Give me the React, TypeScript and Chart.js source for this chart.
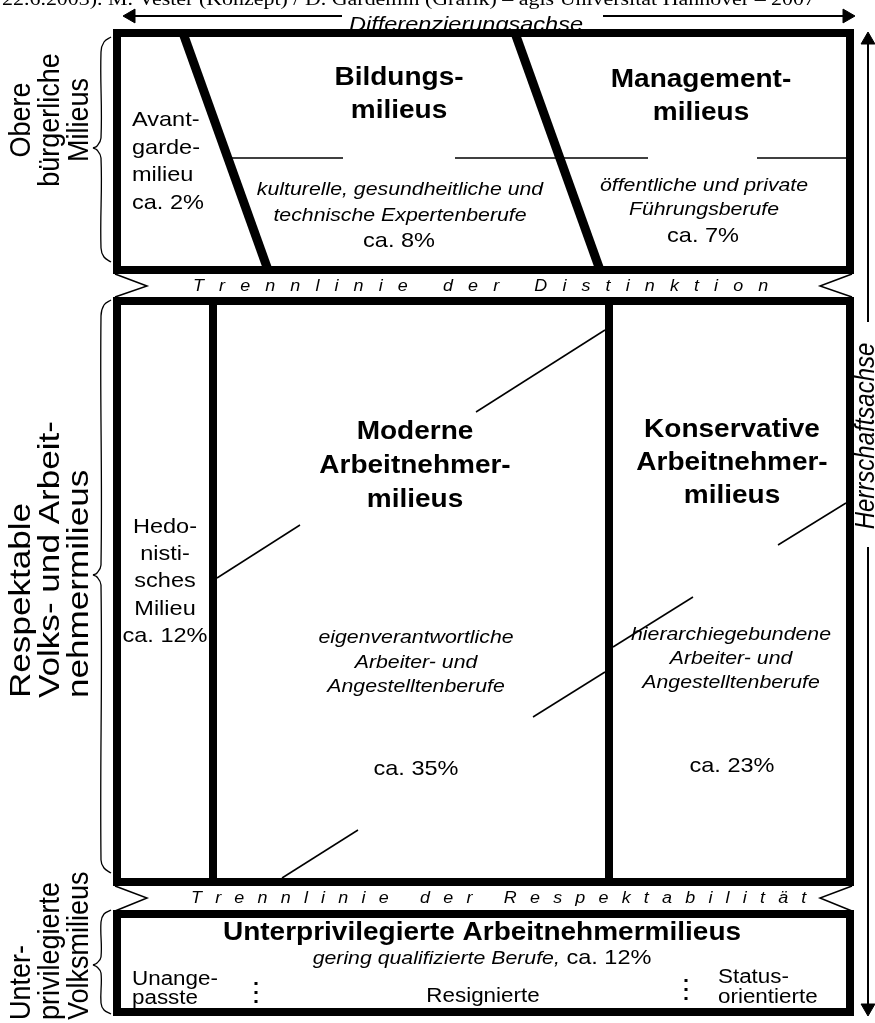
import React, { useEffect, useRef } from "react";
import { Chart, registerables } from "chart.js";

Chart.register(...registerables);

const W = 875;
const H = 1023;
const SX = 1.12;
const SANS = "'Liberation Sans', Arial, Helvetica, sans-serif";
const SERIF = "'Liberation Serif', 'Times New Roman', serif";

// ---------- texts ----------
const headerText = "22.6.2003). M. Vester (Konzept) / D. Gardemin (Grafik) – agis Universität Hannover – 2007";
const axisXLabel = "Differenzierungsachse";
const axisYLabel = "Herrschaftsachse";
const upperGroup = ["Obere", "bürgerliche", "Milieus"];
const middleGroup = ["Respektable", "Volks- und Arbeit-", "nehmermilieus"];
const lowerGroup = ["Unter-", "privilegierte", "Volksmilieus"];
const avantgarde = ["Avant-", "garde-", "milieu", "ca. 2%"];
const bildungTitle = ["Bildungs-", "milieus"];
const bildungJobs = ["kulturelle, gesundheitliche und", "technische Expertenberufe"];
const bildungShare = "ca. 8%";
const managementTitle = ["Management-", "milieus"];
const managementJobs = ["öffentliche und private", "Führungsberufe"];
const managementShare = "ca. 7%";
const distinctionLine = "Trennlinie der Distinktion";
const hedonistic = ["Hedo-", "nisti-", "sches", "Milieu", "ca. 12%"];
const modernTitle = ["Moderne", "Arbeitnehmer-", "milieus"];
const modernJobs = ["eigenverantwortliche", "Arbeiter- und", "Angestelltenberufe"];
const modernShare = "ca. 35%";
const conservTitle = ["Konservative", "Arbeitnehmer-", "milieus"];
const conservJobs = ["hierarchiegebundene", "Arbeiter- und", "Angestelltenberufe"];
const conservShare = "ca. 23%";
const respectLine = "Trennlinie der Respektabilität";
const underTitle = "Unterprivilegierte Arbeitnehmermilieus";
const underJobs = "gering qualifizierte Berufe,";
const underShare = " ca. 12%";
const underLeft = ["Unange-", "passte"];
const underMid = ["Resignierte"];
const underRight = ["Status-", "orientierte"];

// ---------- geometry (diagram units) ----------
const upperBox = [[117, 33], [850, 33], [850, 270], [117, 270], [117, 33]];
const upperDiagLeft = [[183, 33], [268, 270]];
const upperDiagRight = [[515, 33], [600, 270]];
const middleBox = [[117, 301], [850, 301], [850, 882], [117, 882], [117, 301]];
const middleSplitLeft = [[213, 301], [213, 882]];
const middleSplitRight = [[609, 301], [609, 882]];
const lowerBox = [[117, 914], [850, 914], [850, 1012], [117, 1012], [117, 914]];

const upperRuleA = [[232, 158], [343, 158]];
const upperRuleB = [[455, 158], [648, 158]];
const upperRuleC = [[757, 158], [846, 158]];

const slant1 = [[217, 578], [300, 525]];
const slant2 = [[476, 412], [605, 330]];
const slant3 = [[778, 545], [846, 503]];
const slant4 = [[533, 717], [605, 672]];
const slant5 = [[613, 647], [693, 597]];
const slant6 = [[282, 878], [358, 830]];

const notch1L = [[115, 274], [147, 286], [115, 297]];
const notch1R = [[852, 274], [820, 286], [852, 297]];
const notch2L = [[115, 886], [147, 898], [115, 911]];
const notch2R = [[852, 886], [820, 898], [852, 911]];

const xAxisLeft = [[131, 16], [342, 16]];
const xAxisRight = [[603, 16], [847, 16]];
const xAxisHeads = [[131, 16], [847, 16]];
const xAxisHeadRot = [-90, 90];
const yAxisTop = [[868, 42], [868, 322]];
const yAxisBottom = [[868, 547], [868, 1006]];
const yAxisHeads = [[868, 40], [868, 1008]];
const yAxisHeadRot = [0, 180];

const dots1 = [[256, 982], [256, 1003]];
const dots2 = [[686, 979], [686, 1000]];

const braceTopA = [[111, 37], [104, 42], [101, 52], [101, 138], [97, 146], [93, 148]];
const braceTopB = [[93, 148], [97, 150], [101, 158], [101, 248], [104, 257], [111, 262]];
const braceMidA = [[111, 300], [104, 305], [101, 316], [101, 565], [97, 573], [93, 575]];
const braceMidB = [[93, 575], [97, 577], [101, 585], [101, 860], [104, 868], [111, 873]];
const braceLowA = [[111, 910], [104, 914], [101, 922], [101, 957], [97, 963], [93, 965]];
const braceLowB = [[93, 965], [97, 967], [101, 973], [101, 1003], [104, 1010], [111, 1014]];

type Pt = number[];

function line(pts: Pt[], width: number, extra: any = {}) {
  return {
    type: "line" as const,
    data: pts.map(([x, y]) => ({ x, y })),
    borderColor: "#000",
    backgroundColor: "#000",
    borderWidth: width,
    pointRadius: 0,
    showLine: true,
    fill: false,
    tension: 0,
    clip: false,
    borderJoinStyle: "miter" as const,
    borderCapStyle: "butt" as const,
    ...extra,
  };
}

function heads(pts: Pt[], rot: number[]) {
  return {
    type: "scatter" as const,
    data: pts.map(([x, y]) => ({ x, y })),
    pointStyle: "triangle",
    pointRadius: 8,
    pointRotation: rot,
    backgroundColor: "#000",
    borderColor: "#000",
    borderWidth: 1,
    showLine: false,
    clip: false,
  };
}

type TextItem = {
  lines: string[];
  x: number;
  y: number;
  lh?: number;
  align?: CanvasTextAlign;
  font: string;
  rot?: boolean;
  len?: number;
  spacing?: number;
  fitWidth?: number;
};

const R21 = `21px ${SANS}`;
const B25 = `bold 25px ${SANS}`;
const I19 = `italic 19px ${SANS}`;
const R20 = `20px ${SANS}`;
const R27 = `27px ${SANS}`;

const textItems: TextItem[] = [
  { lines: [headerText], x: 2, y: 5, font: `18px ${SERIF}`, align: "left", fitWidth: 813 },
  { lines: [axisXLabel], x: 466, y: 31, font: `italic 21px ${SANS}`, align: "center" },
  { lines: [axisYLabel], x: 874, y: 436, font: `italic 24px ${SANS}`, align: "center", rot: true },
  { lines: upperGroup, x: 30, y: 120, lh: 29, font: R27, align: "center", rot: true },
  { lines: middleGroup, x: 30, y: 698, lh: 29, font: R27, align: "left", rot: true, len: 1.3 },
  { lines: lowerGroup, x: 30, y: 1020, lh: 29, font: R27, align: "left", rot: true },
  { lines: avantgarde, x: 132, y: 126, lh: 27.7, font: R21, align: "left" },
  { lines: bildungTitle, x: 399, y: 85, lh: 33, font: B25, align: "center" },
  { lines: bildungJobs, x: 400, y: 195, lh: 26, font: I19, align: "center" },
  { lines: [bildungShare], x: 399, y: 247, font: R21, align: "center" },
  { lines: managementTitle, x: 701, y: 87, lh: 33, font: B25, align: "center" },
  { lines: managementJobs, x: 704, y: 191, lh: 24, font: I19, align: "center" },
  { lines: [managementShare], x: 703, y: 242, font: R21, align: "center" },
  { lines: [distinctionLine], x: 193, y: 291, font: `italic 16px ${SANS}`, align: "left", spacing: 13.5 },
  { lines: hedonistic, x: 165, y: 533, lh: 27.2, font: R21, align: "center" },
  { lines: modernTitle, x: 415, y: 439, lh: 34, font: B25, align: "center" },
  { lines: modernJobs, x: 416, y: 643, lh: 24.5, font: I19, align: "center" },
  { lines: [modernShare], x: 416, y: 775, font: R21, align: "center" },
  { lines: conservTitle, x: 732, y: 437, lh: 33, font: B25, align: "center" },
  { lines: conservJobs, x: 731, y: 640, lh: 24, font: I19, align: "center" },
  { lines: [conservShare], x: 732, y: 772, font: R21, align: "center" },
  { lines: [respectLine], x: 191, y: 903, font: `italic 16px ${SANS}`, align: "left", spacing: 11.8 },
  { lines: [underTitle], x: 482, y: 940, font: B25, align: "center" },
  { lines: underLeft, x: 132, y: 985, lh: 19, font: R20, align: "left" },
  { lines: underMid, x: 483, y: 1002, font: R20, align: "center" },
  { lines: underRight, x: 718, y: 983, lh: 20, font: R20, align: "left" },
];

const textPlugin = {
  id: "diagramText",
  afterDatasetsDraw(chart: any) {
    const ctx: CanvasRenderingContext2D = chart.ctx;
    const xs = chart.scales.x;
    const ys = chart.scales.y;
    ctx.save();
    ctx.fillStyle = "#000";
    ctx.textBaseline = "alphabetic";
    for (const t of textItems) {
      const px = xs.getPixelForValue(t.x);
      const py = ys.getPixelForValue(t.y);
      ctx.font = t.font;
      t.lines.forEach((s, i) => {
        const off = i * (t.lh || 0);
        ctx.save();
        if (t.rot) {
          ctx.translate(px + off, py);
          ctx.scale(SX, t.len || 1);
          ctx.rotate(-Math.PI / 2);
        } else {
          ctx.translate(px, py + off);
          if (t.fitWidth) {
            const w = ctx.measureText(s).width;
            ctx.scale(t.fitWidth / w, 1);
          } else {
            ctx.scale(SX, 1);
          }
        }
        if (t.spacing) {
          ctx.textAlign = "left";
          let cx = 0;
          for (const ch of s) {
            ctx.fillText(ch, cx, 0);
            cx += ctx.measureText(ch).width + t.spacing;
          }
        } else {
          ctx.textAlign = t.align || "left";
          ctx.fillText(s, 0, 0);
        }
        ctx.restore();
      });
    }
    // mixed italic / regular line in the lower box
    const f1 = I19;
    const f2 = R21;
    ctx.font = f1;
    const w1 = ctx.measureText(underJobs).width;
    ctx.font = f2;
    const w2 = ctx.measureText(underShare).width;
    ctx.save();
    ctx.translate(xs.getPixelForValue(482), ys.getPixelForValue(964));
    ctx.scale(SX, 1);
    ctx.textAlign = "left";
    ctx.font = f1;
    ctx.fillText(underJobs, -(w1 + w2) / 2, 0);
    ctx.font = f2;
    ctx.fillText(underShare, -(w1 + w2) / 2 + w1, 0);
    ctx.restore();
    ctx.restore();
  },
};

export default function App() {
  const ref = useRef<HTMLCanvasElement | null>(null);
  useEffect(() => {
    if (!ref.current) return;
    const thick = 8;
    const thin = 1.5;
    const box = { borderCapStyle: "square" };
    const datasets: any[] = [
      line(upperBox, thick, box),
      line(upperDiagLeft, 9),
      line(upperDiagRight, 9),
      line(middleBox, thick, box),
      line(middleSplitLeft, thick),
      line(middleSplitRight, thick),
      line(lowerBox, thick, box),
      line(upperRuleA, thin),
      line(upperRuleB, thin),
      line(upperRuleC, thin),
      line(slant1, thin),
      line(slant2, thin),
      line(slant3, thin),
      line(slant4, thin),
      line(slant5, thin),
      line(slant6, thin),
      line(notch1L, thin),
      line(notch1R, thin),
      line(notch2L, thin),
      line(notch2R, thin),
      line(xAxisLeft, 2),
      line(xAxisRight, 2),
      heads(xAxisHeads, xAxisHeadRot),
      line(yAxisTop, 2),
      line(yAxisBottom, 2),
      heads(yAxisHeads, yAxisHeadRot),
      line(dots1, 3, { borderDash: [3, 6] }),
      line(dots2, 3, { borderDash: [3, 6] }),
      line(braceTopA, 1.3, { tension: 0.4 }),
      line(braceTopB, 1.3, { tension: 0.4 }),
      line(braceMidA, 1.3, { tension: 0.4 }),
      line(braceMidB, 1.3, { tension: 0.4 }),
      line(braceLowA, 1.3, { tension: 0.4 }),
      line(braceLowB, 1.3, { tension: 0.4 }),
    ];
    const chart = new Chart(ref.current, {
      type: "scatter",
      data: { datasets },
      options: {
        responsive: false,
        animation: false,
        devicePixelRatio: 1,
        events: [],
        layout: { padding: 0, autoPadding: false },
        plugins: {
          legend: { display: false },
          tooltip: { enabled: false },
          title: { display: false },
        },
        scales: {
          x: { type: "linear", min: 0, max: W, display: false },
          y: { type: "linear", min: 0, max: H, reverse: true, display: false },
        },
      },
      plugins: [textPlugin],
    });
    return () => chart.destroy();
  }, []);
  return (
    <div style={{ position: "fixed", left: 0, top: 0, width: W, height: H, background: "#fff" }}>
      <canvas ref={ref} width={W} height={H} style={{ width: W, height: H, display: "block" }} />
    </div>
  );
}
